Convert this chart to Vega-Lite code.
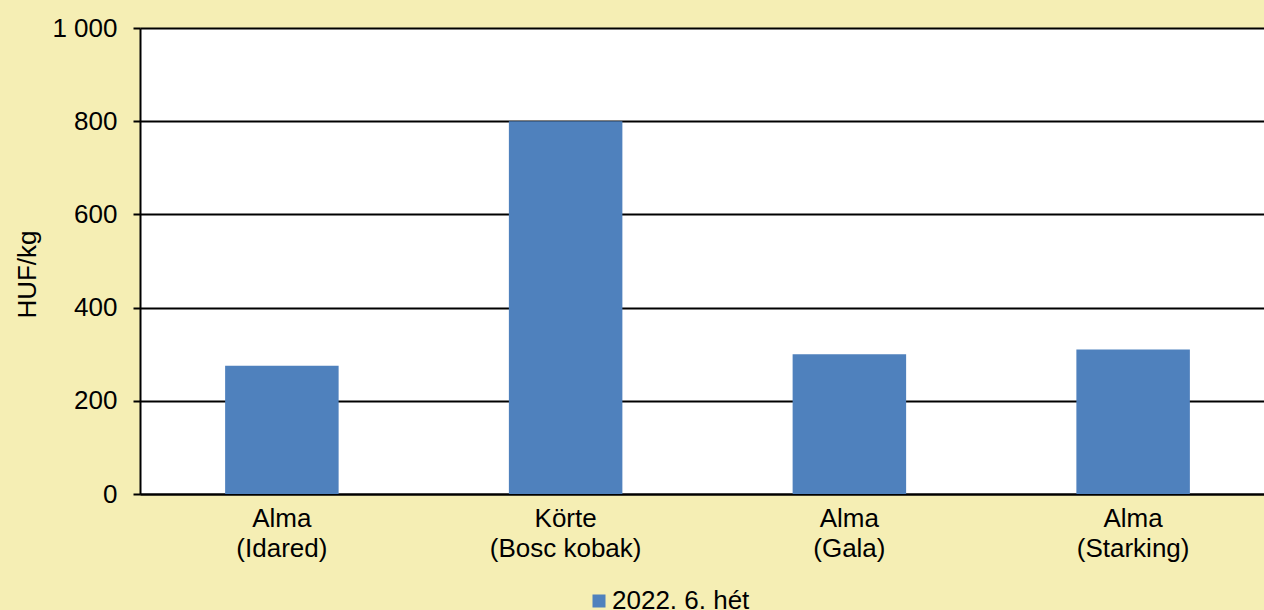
{
  "$schema": "https://vega.github.io/schema/vega-lite/v6.json",
  "width": 1135,
  "height": 466,
  "autosize": {"type": "none"},
  "padding": {"left": 140, "top": 28, "right": 0, "bottom": 116},
  "background": "#F5EEB4",
  "config": {
    "view": {"fill": "white", "stroke": null},
    "font": "Liberation Sans",
    "axis": {"labelFont": "Liberation Sans", "titleFont": "Liberation Sans"},
    "legend": {"labelFont": "Liberation Sans"}
  },
  "data": {
    "values": [
      {"cat": "Alma|(Idared)", "v": 275, "s": "2022. 6. hét"},
      {"cat": "Körte|(Bosc kobak)", "v": 800, "s": "2022. 6. hét"},
      {"cat": "Alma|(Gala)", "v": 300, "s": "2022. 6. hét"},
      {"cat": "Alma|(Starking)", "v": 310, "s": "2022. 6. hét"}
    ]
  },
  "mark": {"type": "bar"},
  "encoding": {
    "x": {
      "field": "cat",
      "type": "nominal",
      "sort": null,
      "scale": {"paddingInner": 0.6, "paddingOuter": 0.3},
      "axis": {
        "title": null,
        "labelAngle": 0,
        "labelExpr": "split(datum.label, '|')",
        "ticks": false,
        "domainColor": "black",
        "domainWidth": 2,
        "labelFontSize": 26,
        "labelPadding": 11,
        "labelLineHeight": 30,
        "labelColor": "black",
        "labelOverlap": false
      }
    },
    "y": {
      "field": "v",
      "type": "quantitative",
      "scale": {"domain": [0, 1000]},
      "axis": {
        "values": [0, 200, 400, 600, 800, 1000],
        "labelExpr": "replace(format(datum.value, ','), ',', ' ')",
        "grid": true,
        "gridColor": "black",
        "gridWidth": 2,
        "domainColor": "black",
        "domainWidth": 2,
        "tickColor": "black",
        "tickSize": 7,
        "tickWidth": 2,
        "labelPadding": 16,
        "labelFontSize": 26,
        "labelColor": "black",
        "title": "HUF/kg",
        "titleFontSize": 26,
        "titleFontWeight": "normal",
        "titleColor": "black",
        "titleAngle": -90,
        "titleAlign": "center",
        "titleBaseline": "middle",
        "titleX": -113,
        "titleY": 246
      }
    },
    "color": {
      "field": "s",
      "type": "nominal",
      "scale": {"range": ["#4F81BD"]},
      "legend": {
        "title": null,
        "orient": "none",
        "legendX": 446,
        "legendY": 560,
        "padding": 0,
        "symbolType": "square",
        "symbolSize": 169,
        "symbolStrokeWidth": 0,
        "symbolOpacity": 1,
        "labelFontSize": 26,
        "labelColor": "black",
        "labelOffset": 0
      }
    }
  }
}
